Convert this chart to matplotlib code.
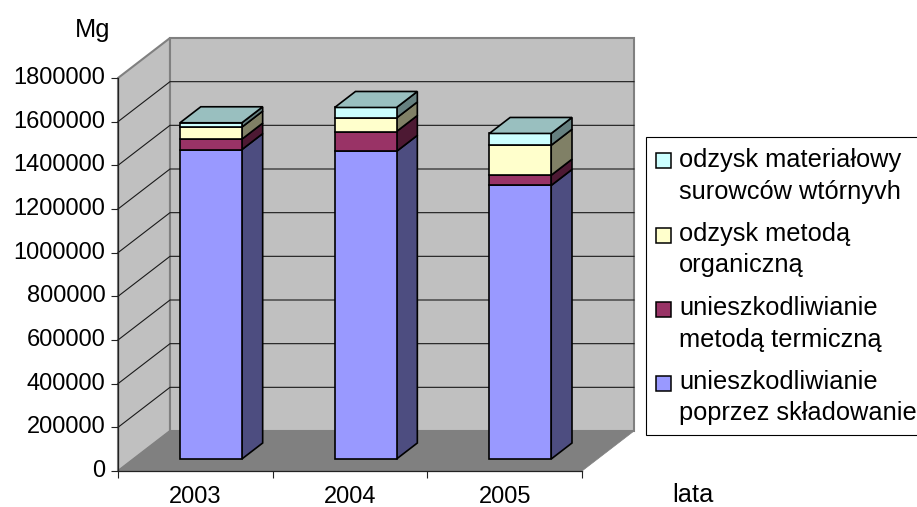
import matplotlib
matplotlib.use("Agg")
import matplotlib.pyplot as plt
from matplotlib.patches import Polygon, Rectangle

plt.rcParams['font.family'] = ['Liberation Sans', 'DejaVu Sans']

years = ['2003', '2004', '2005']
# Mg per year, stacked from the bottom up
skladowanie = [1417000, 1409000, 1253000]
termiczna = [48000, 91000, 47000]
organiczna = [55000, 62000, 137000]
materialowy = [20000, 48000, 54000]
y_ticks = [0, 200000, 400000, 600000, 800000, 1000000, 1200000, 1400000, 1600000, 1800000]

labels = [
    'odzysk materiałowy\nsurowców wtórnyvh',
    'odzysk metodą\norganiczną',
    'unieszkodliwianie\nmetodą termiczną',
    'unieszkodliwianie\npoprzez składowanie',
]
# front, side
colors = [('#9999FF', '#4D4D80'), ('#993366', '#4D1933'),
          ('#FFFFCC', '#808066'), ('#CCFFFF', '#668080')]
top_color = '#99BFBF'

W, H = 917, 507
FS = 17
FS_LEGEND = 18.3
fig = plt.figure(figsize=(W/100, H/100), dpi=100)
ax = fig.add_axes([118/W, (H-471)/H, 464/W, 393/H])
ax.patch.set_visible(False)
ax.set_xlim(0, 3)
ax.set_ylim(0, 1800000)

# oblique offset of the back wall, in axis units
depth_x = 52/464*3
depth_y = 40/393*1800000
wall_x = 3 + depth_x
ymax = 1800000

def poly(pts, fc, ec, lw, z):
    ax.add_patch(Polygon(pts, closed=True, facecolor=fc, edgecolor=ec, linewidth=lw,
                         zorder=z, clip_on=False, joinstyle='miter'))

poly([(0, 0), (depth_x, depth_y), (depth_x, ymax+depth_y), (0, ymax)], '#C0C0C0', '#808080', 1.5, 1)
poly([(depth_x, depth_y), (wall_x, depth_y), (wall_x, ymax+depth_y), (depth_x, ymax+depth_y)],
     '#C0C0C0', '#808080', 1.5, 1)
poly([(0, 0), (3, 0), (wall_x, depth_y), (depth_x, depth_y)], '#808080', '#808080', 0.5, 1.1)

for v in y_ticks[1:-1]:
    ax.plot([0, depth_x, wall_x], [v, v+depth_y, v+depth_y],
            color='#1a1a1a', lw=0.8, zorder=1.2, clip_on=False)

# bars sit in the middle 40% of the depth and of each category
bar_w = 0.4
d0, d1 = 0.3, 0.7
series = [skladowanie, termiczna, organiczna, materialowy]
for i in range(len(years)):
    x0 = i + 0.5 - bar_w/2 + d0*depth_x
    x1 = x0 + bar_w
    base = d0*depth_y
    ddx = (d1-d0)*depth_x
    ddy = (d1-d0)*depth_y
    bottom = base
    for vals, (front, side) in zip(series, colors):
        top = bottom + vals[i]
        poly([(x1, bottom), (x1+ddx, bottom+ddy), (x1+ddx, top+ddy), (x1, top)], side, 'black', 1.2, 3)
        poly([(x0, bottom), (x1, bottom), (x1, top), (x0, top)], front, 'black', 1.2, 3.1)
        bottom = top
    poly([(x0, bottom), (x1, bottom), (x1+ddx, bottom+ddy), (x0+ddx, bottom+ddy)], top_color, 'black', 1.2, 3.2)

for s in ['top', 'right']:
    ax.spines[s].set_visible(False)
for s in ['left', 'bottom']:
    ax.spines[s].set_linewidth(0.9)
    ax.spines[s].set_zorder(2.5)
    ax.spines[s].set_color('#222222')

ax.set_yticks(y_ticks)
ax.set_yticklabels([str(v) for v in y_ticks], fontsize=FS, va='center')
ax.tick_params(axis='y', length=5, width=0.8, pad=4, color='#222222')
ax.set_xticks([0, 1, 2, 3])
ax.set_xticklabels([])
ax.tick_params(axis='x', which='major', length=5, width=0.8, color='#222222')
ax.set_xticks([0.5, 1.5, 2.5], minor=True)
ax.set_xticklabels(years, minor=True, fontsize=FS)
ax.tick_params(axis='x', which='minor', length=0, pad=11)

def px(x, y):
    return x/W, (H-y)/H

fig.text(*px(75, 37), 'Mg', fontsize=FS_LEGEND, va='baseline')
fig.text(*px(672, 502), 'lata', fontsize=FS_LEGEND, va='baseline')

# legend box runs off the right edge of the figure
fig.add_artist(Rectangle(px(646, 435), 300/W, 298/H, transform=fig.transFigure,
                         facecolor='white', edgecolor='black', linewidth=0.8))
swatch_y = [153, 228, 302, 376]
baselines = [(167, 199), (241, 272), (315, 347), (389, 420)]
swatch_colors = [colors[3][0], colors[2][0], colors[1][0], colors[0][0]]
for lab, sy, (b1, b2), c in zip(labels, swatch_y, baselines, swatch_colors):
    fig.add_artist(Rectangle(px(656, sy+15), 15/W, 15/H, transform=fig.transFigure,
                             facecolor=c, edgecolor='black', linewidth=1.1))
    line1, line2 = lab.split('\n')
    fig.text(*px(679, b1), line1, fontsize=FS_LEGEND, va='baseline')
    fig.text(*px(679, b2), line2, fontsize=FS_LEGEND, va='baseline')

fig.savefig('out.png', dpi=100)
